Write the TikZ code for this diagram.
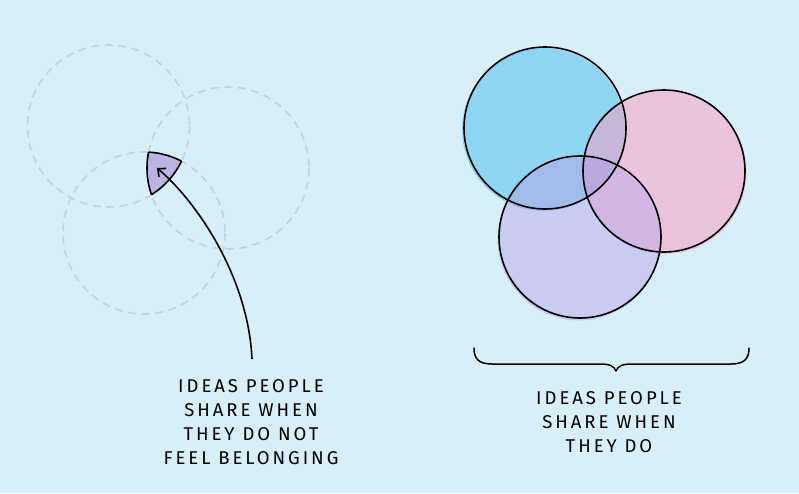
\documentclass[tikz,border=0pt]{standalone}
\usepackage{fontspec}
\setmainfont{Fira Sans}[LetterSpace=16]
\usetikzlibrary{arrows.meta}
\definecolor{bg}{HTML}{D8EFFA}
\definecolor{dashc}{HTML}{C3D2DA}
\definecolor{trif}{HTML}{BDB3E3}
\definecolor{blueF}{HTML}{8ED5F2}
\definecolor{pinkF}{HTML}{EAC3DF}
\definecolor{lavF}{HTML}{C8CCF1}
\definecolor{blF}{HTML}{A2BCEA}
\definecolor{bpF}{HTML}{C5B8D9}
\definecolor{plF}{HTML}{D2B7E4}
\definecolor{allF}{HTML}{B9A9DF}
\tikzset{
  ghost/.style={draw=dashc, line width=1.6pt, dash pattern=on 8pt off 5.5pt},
  outline/.style={draw=black, line width=1.6pt},
  label/.style={align=center, font=\fontsize{18.5}{24}\selectfont, inner sep=0pt}
}
\begin{document}
\begin{tikzpicture}[x=1pt,y=-1pt]
\fill[bg] (0,0) rectangle (799,493);
\useasboundingbox (0,0) rectangle (799,493);
% left: dashed circles
\coordinate (c1) at (108.5,126);
\coordinate (c2) at (228,168);
\coordinate (c3) at (144,233);
\draw[ghost] (c1) circle[radius=81];
\draw[ghost] (c2) circle[radius=81];
\draw[ghost] (c3) circle[radius=81];
% intersection region
\begin{scope}
  \clip (c1) circle[radius=81];
  \clip (c2) circle[radius=81];
  \fill[trif] (c3) circle[radius=81];
\end{scope}
\begin{scope}
  \clip (c2) circle[radius=81];
  \clip (c3) circle[radius=81];
  \draw[outline] (c1) circle[radius=81];
\end{scope}
\begin{scope}
  \clip (c1) circle[radius=81];
  \clip (c3) circle[radius=81];
  \draw[outline] (c2) circle[radius=81];
\end{scope}
\begin{scope}
  \clip (c1) circle[radius=81];
  \clip (c2) circle[radius=81];
  \draw[outline] (c3) circle[radius=81];
\end{scope}
% arrow
\coordinate (astart) at (252,359);
\coordinate (atip) at (157,168);
\draw[line width=1.6pt, -{Straight Barb[length=6pt,width=11pt]}] (astart) .. controls (248,275) and (195,200) .. (atip);
% right: Venn
\coordinate (B) at (545,128);
\coordinate (P) at (664,171);
\coordinate (L) at (580,237);
\coordinate (Bf) at (543.5,129.5);
\coordinate (Pf) at (665,172.5);
\coordinate (Lf) at (579,239);
\fill[blueF] (Bf) circle[radius=81.5];
\fill[pinkF] (Pf) circle[radius=81.5];
\fill[lavF] (Lf) circle[radius=81.5];
\begin{scope}
  \clip (Bf) circle[radius=81.5];
  \fill[blF] (Lf) circle[radius=81.5];
  \fill[bpF] (Pf) circle[radius=81.5];
\end{scope}
\begin{scope}
  \clip (Pf) circle[radius=81.5];
  \fill[plF] (Lf) circle[radius=81.5];
\end{scope}
\begin{scope}
  \clip (Bf) circle[radius=81.5];
  \clip (Pf) circle[radius=81.5];
  \fill[allF] (Lf) circle[radius=81.5];
\end{scope}
\draw[outline] (B) circle[radius=81];
\draw[outline] (P) circle[radius=81];
\draw[outline] (L) circle[radius=81];
% brace
\draw[line width=1.5pt, line cap=round, line join=round]
  (474,348) .. controls (474,358) and (478,364) .. (492,364) -- (600,364)
  .. controls (610,364) and (614,366) .. (616,371)
  .. controls (618,366) and (622,364) .. (632,364) -- (731,364)
  .. controls (745,364) and (749,358) .. (749,348);
% labels
\node[label] (lt) at (251,422) {IDEAS PEOPLE\\SHARE WHEN\\THEY DO NOT\\FEEL BELONGING};
\node[label] (rt) at (609,422) {IDEAS PEOPLE\\SHARE WHEN\\THEY DO};
\end{tikzpicture}
\end{document}
